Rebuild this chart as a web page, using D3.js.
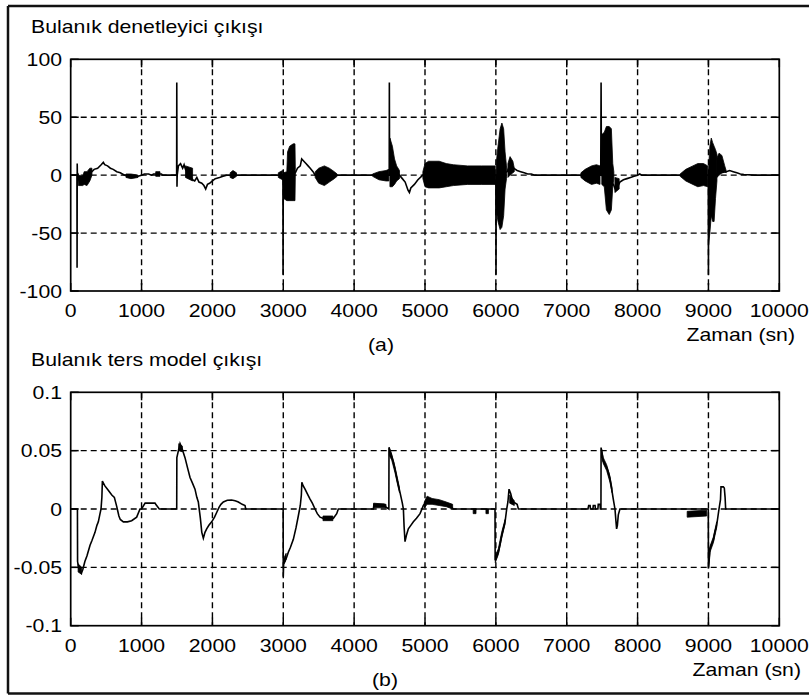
<!DOCTYPE html>
<html>
<head>
<meta charset="utf-8">
<script src="https://cdn.jsdelivr.net/npm/d3@7"></script>
<style>
  body { margin: 0; background: #fff; }
  text { font-family: "Liberation Sans", Arial, sans-serif; font-size: 18px; fill: #000; }
</style>
</head>
<body>
<svg id="chart" width="809" height="695"></svg>
<script>
// time axis (seconds)
const xTicks = [0, 1000, 2000, 3000, 4000, 5000, 6000, 7000, 8000, 9000, 10000];
const xTickLabels = ['0', '1000', '2000', '3000', '4000', '5000', '6000', '7000', '8000', '9000', '10000'];

// (a) fuzzy controller output
const ctrlTicks = [-100, -50, 0, 50, 100];
const ctrlTickLabels = ['-100', '-50', '0', '50', '100'];
const ctrlLine = [
  [0, 0], [88, 0], [90, -80], [92, 10], [95, -3], [300, 3], [330, 5], [380, 6], [430, 9], [460, 11], [480, 9],
  [520, 8], [560, 6], [600, 5], [650, 3], [700, 2], [760, 0], [850, -1], [950, -1], [1000, 0], [1040, 1],
  [1100, 1], [1140, 0], [1170, 1], [1280, 1], [1300, 0], [1495, 0], [1497, 80], [1500, -10], [1503, 0],
  [1520, 8], [1550, 10], [1580, 6], [1600, 9], [1620, 5], [1720, -4], [1750, -5], [1780, -2], [1810, -6],
  [1850, -7], [1880, -9], [1905, -12], [1930, -8], [1960, -7], [2000, -5], [2040, -3], [2100, -2], [2150, -1],
  [2200, 0], [2995, 0], [2997, -86], [3000, 0], [3170, 2], [3200, 6], [3240, 8], [3260, 14], [3290, 12],
  [3320, 10], [3350, 8], [3380, 6], [3420, 3], [3450, 0], [4495, 0], [4497, 80], [4500, 0], [4640, 0],
  [4680, -3], [4720, -6], [4760, -13], [4780, -15], [4800, -11], [4850, -8], [4900, -4], [4950, -1], [4970, 0],
  [6000, 0], [6002, -86], [6005, 0], [6160, 3], [6200, 10], [6250, 6], [6300, 4], [6350, 3], [6400, 2],
  [6450, 1], [6500, 1], [6550, 0], [7480, 0], [7485, 80], [7490, 0], [7660, -8], [7690, -13], [7720, -10],
  [7750, -6], [7800, -4], [7850, -3], [7900, -2], [7950, -1], [8000, 0], [8030, 1], [8060, 0], [8998, 0],
  [9000, -86], [9003, 0], [9250, 3], [9300, 4], [9350, 3], [9400, 2], [9450, 1], [9500, 0.5], [9650, 0], [10000, 0]
];
// dense oscillation envelopes: [t, low, high]
const ctrlBands = [
  [[100, -2, 2], [110, -9, 0], [170, -9, -1], [190, -8, 3], [230, -9, 3], [270, -5, 6], [300, 0, 6]],
  [[780, -2, 1], [850, -3, 1], [950, -2, 0]],
  [[1200, -1, 3], [1260, -1, 3]],
  [[1620, -2, 8], [1720, -5, 6]],
  [[2250, -2, 2], [2290, -3, 4], [2340, -1, 2]],
  [[2930, -2, 2], [2990, -4, 4]],
  [[3002, -20, 2], [3050, -22, 3], [3060, -22, 20], [3090, -22, 25], [3140, -22, 27], [3165, -22, 27], [3170, 0, 5]],
  [[3450, -2, 3], [3500, -7, 6], [3580, -9, 8], [3650, -6, 6], [3720, -3, 3], [3760, -1, 1]],
  [[4260, -1, 1], [4350, -4, 3], [4450, -5, 4], [4490, -5, 5]],
  [[4505, -10, 32], [4540, -10, 25], [4570, -8, 14], [4600, -5, 8], [4640, -3, 4]],
  [[4970, -3, 3], [5000, -10, 10], [5050, -11, 12], [5200, -11, 12], [5300, -10, 10], [5400, -9, 9], [5600, -8, 8], [5800, -8, 8], [5990, -8, 8]],
  [[6005, -30, 10], [6030, -40, 25], [6060, -47, 40], [6085, -45, 45], [6110, -35, 40], [6130, -12, 20], [6150, -3, 8]],
  [[6170, -2, 10], [6200, 0, 16], [6240, 2, 12], [6260, 3, 6]],
  [[7200, -2, 2], [7260, -5, 5], [7350, -8, 8], [7420, -7, 9], [7470, -8, 8]],
  [[7495, -8, 35], [7530, -10, 37], [7560, -30, 42], [7600, -34, 42], [7630, -30, 40], [7650, -10, 10], [7665, -3, 3]],
  [[7680, -15, -2], [7740, -12, -3]],
  [[8600, -1, 1], [8680, -5, 5], [8780, -8, 8], [8850, -10, 10], [8930, -9, 10], [8990, -10, 8]],
  [[9002, -60, 5], [9020, -50, 25], [9040, -35, 32], [9060, -40, 28], [9080, -40, 25], [9100, -20, 22], [9120, -5, 18]],
  [[9120, -2, 15], [9150, 0, 19], [9190, 2, 17], [9230, 3, 8], [9250, 2, 4]]
];

// (b) fuzzy inverse model output
const invTicks = [-0.1, -0.05, 0, 0.05, 0.1];
const invTickLabels = ['-0.1', '-0.05', '0', '0.05', '0.1'];
const invLine = [
  [0, 0], [95, 0], [97, -0.045], [110, -0.05], [130, -0.053], [150, -0.055], [170, -0.052], [200, -0.045],
  [230, -0.04], [273, -0.031], [300, -0.027], [343, -0.02], [370, -0.014], [390, -0.011], [410, -0.005],
  [428, 0], [440, 0.01], [447, 0.024], [480, 0.02], [530, 0.016], [580, 0.012], [616, 0.01], [650, 0.002],
  [680, -0.006], [700, -0.009], [743, -0.011], [800, -0.011], [860, -0.01], [931, -0.007], [978, 0], [1000, 0],
  [1050, 0.005], [1190, 0.005], [1200, 0.004], [1250, 0], [1496, 0], [1498, 0.044], [1520, 0.05], [1543, 0.056],
  [1570, 0.052], [1613, 0.044], [1650, 0.035], [1684, 0.027], [1720, 0.022], [1754, 0.017], [1780, 0.01],
  [1801, 0.006], [1830, -0.008], [1850, -0.02], [1872, -0.025], [1895, -0.02], [1919, -0.017], [1950, -0.014],
  [1990, -0.011], [2030, -0.007], [2060, -0.003], [2093, 0.0014], [2120, 0.004], [2154, 0.006], [2210, 0.0075],
  [2270, 0.0077], [2320, 0.007], [2366, 0.006], [2420, 0.004], [2460, 0.003], [2470, 0], [2998, 0], [3000, -0.058],
  [3005, -0.047], [3024, -0.045], [3050, -0.041], [3071, -0.037], [3100, -0.033], [3142, -0.026], [3180, -0.016],
  [3212, -0.006], [3240, 0.003], [3255, 0.012], [3262, 0.023], [3280, 0.02], [3307, 0.017], [3340, 0.013],
  [3378, 0.0085], [3410, 0.005], [3448, 0], [3480, -0.004], [3519, -0.007], [3560, -0.008], [3600, -0.009],
  [3650, -0.009], [3707, -0.008], [3754, -0.004], [3777, 0], [4271, 0], [4280, 0.004], [4420, 0.004],
  [4440, 0.002], [4490, 0], [4492, 0.0526], [4510, 0.049], [4530, 0.045], [4555, 0.04], [4577, 0.034],
  [4610, 0.024], [4648, 0.014], [4680, 0.005], [4695, 0], [4705, -0.015], [4718, -0.028], [4740, -0.022],
  [4765, -0.017], [4800, -0.014], [4836, -0.011], [4880, -0.008], [4930, -0.004], [4977, 0.003], [5024, 0.007],
  [5080, 0.008], [5150, 0.007], [5250, 0.005], [5350, 0.003], [5400, 0], [5988, 0], [5990, -0.044],
  [6010, -0.041], [6035, -0.037], [6060, -0.03], [6082, -0.023], [6105, -0.017], [6130, -0.011], [6153, 0],
  [6170, 0.006], [6186, 0.017], [6210, 0.013], [6230, 0.008], [6247, 0.006], [6300, 0.004], [6318, 0],
  [7300, 0], [7310, 0.003], [7330, 0.003], [7335, 0], [7370, 0], [7375, 0.003], [7400, 0.003], [7405, 0],
  [7440, 0], [7445, 0.004], [7470, 0.004], [7475, 0], [7483, 0], [7485, 0.0526], [7500, 0.047], [7516, 0.041],
  [7540, 0.038], [7563, 0.036], [7590, 0.031], [7610, 0.026], [7635, 0.017], [7657, 0.0085], [7681, 0],
  [7694, -0.01], [7704, -0.017], [7715, -0.014], [7728, -0.005], [7751, 0], [8998, 0], [9000, -0.051],
  [9010, -0.044], [9022, -0.034], [9045, -0.03], [9069, -0.027], [9090, -0.02], [9116, -0.014], [9135, -0.006],
  [9149, 0], [9170, 0.008], [9177, 0.019], [9210, 0.019], [9224, 0.018], [9235, 0.01], [9243, 0], [10000, 0]
];
const invBands = [
  [[105, -0.054, -0.047], [155, -0.056, -0.05]],
  [[1525, 0.05, 0.056], [1575, 0.049, 0.054]],
  [[3002, -0.048, -0.043], [3040, -0.043, -0.038]],
  [[3560, -0.01, -0.006], [3700, -0.01, -0.006]],
  [[4275, 0.001, 0.005], [4450, 0.001, 0.004]],
  [[4495, 0.046, 0.053], [4530, 0.042, 0.047], [4577, 0.031, 0.036], [4620, 0.019, 0.024], [4640, 0.014, 0.018]],
  [[4990, 0.001, 0.006], [5030, 0.004, 0.011], [5100, 0.004, 0.009], [5200, 0.003, 0.008], [5300, 0.002, 0.006], [5390, 0, 0.004]],
  [[5680, -0.004, 0], [5720, -0.004, 0]],
  [[5860, -0.004, 0], [5895, -0.004, 0]],
  [[5992, -0.046, -0.04], [6035, -0.039, -0.034], [6082, -0.025, -0.02], [6130, -0.013, -0.009]],
  [[6195, 0.005, 0.012], [6260, 0.003, 0.007]],
  [[7490, 0.045, 0.052], [7516, 0.039, 0.044], [7563, 0.033, 0.038], [7610, 0.023, 0.028], [7640, 0.014, 0.018]],
  [[8700, -0.007, -0.002], [8975, -0.006, -0.001]],
  [[9002, -0.05, -0.042], [9022, -0.037, -0.032], [9069, -0.029, -0.024], [9116, -0.016, -0.011]]
];

const SX = 1.18;   // the picture's text is a bit stretched sideways
const svg = d3.select('#chart');

function label(g, str, x, y, anchor) {
  g.append('text')
    .attr('transform', `translate(${x},${y}) scale(${SX},1)`)
    .attr('text-anchor', anchor)
    .text(str);
}

// outer frame (no right edge in the picture)
const frame = svg.append('g').attr('stroke', '#111').attr('stroke-width', 2.5);
frame.append('line').attr('x1', 8).attr('y1', 6).attr('x2', 809).attr('y2', 6);
frame.append('line').attr('x1', 8).attr('y1', 6).attr('x2', 8).attr('y2', 693.5);
frame.append('line').attr('x1', 8).attr('y1', 693.5).attr('x2', 809).attr('y2', 693.5);

function drawPanel(p) {
  const g = svg.append('g');
  const x = d3.scaleLinear().domain([0, 10000]).range([70.7, 779.3]);
  const y = d3.scaleLinear().domain([p.ticks[0], p.ticks[p.ticks.length - 1]]).range([p.bottom, p.top]);

  // dashed grid
  g.append('g').selectAll('line').data(xTicks.slice(1, -1)).join('line')
    .attr('x1', d => x(d)).attr('x2', d => x(d))
    .attr('y1', p.top).attr('y2', p.bottom)
    .attr('stroke', '#000').attr('stroke-width', 1.4).attr('stroke-dasharray', '6,4');
  g.append('g').selectAll('line').data(p.ticks.slice(1, -1)).join('line')
    .attr('x1', x(0)).attr('x2', x(10000))
    .attr('y1', d => y(d)).attr('y2', d => y(d))
    .attr('stroke', '#000').attr('stroke-width', 1.4).attr('stroke-dasharray', '6,4');

  // oscillation envelopes
  const area = d3.area().x(d => x(d[0])).y0(d => y(d[1])).y1(d => y(d[2]));
  g.append('g').selectAll('path').data(p.bands).join('path')
    .attr('d', area)
    .attr('fill', '#000').attr('stroke', '#000').attr('stroke-width', 0.8);

  // signal
  const line = d3.line().x(d => x(d[0])).y(d => y(d[1]));
  g.append('path').datum(p.series)
    .attr('d', line)
    .attr('fill', 'none').attr('stroke', '#000').attr('stroke-width', 1.6);

  // inward ticks on all sides
  const tk = g.append('g').attr('stroke', '#000').attr('stroke-width', 1.5);
  xTicks.forEach(d => {
    tk.append('line').attr('x1', x(d)).attr('x2', x(d)).attr('y1', p.bottom).attr('y2', p.bottom - 8);
    tk.append('line').attr('x1', x(d)).attr('x2', x(d)).attr('y1', p.top).attr('y2', p.top + 8);
  });
  p.ticks.forEach(d => {
    tk.append('line').attr('x1', x(0)).attr('x2', x(0) + 8).attr('y1', y(d)).attr('y2', y(d));
    tk.append('line').attr('x1', x(10000)).attr('x2', x(10000) - 8).attr('y1', y(d)).attr('y2', y(d));
  });

  // axes box
  g.append('rect')
    .attr('x', x(0)).attr('y', p.top)
    .attr('width', x(10000) - x(0)).attr('height', p.bottom - p.top)
    .attr('fill', 'none').attr('stroke', '#000').attr('stroke-width', 1.7);

  // tick labels
  xTicks.forEach((d, i) => label(g, xTickLabels[i], x(d), p.bottom + 26, 'middle'));
  p.ticks.forEach((d, i) => label(g, p.tickLabels[i], 62, y(d) + 6.5, 'end'));

  label(g, p.title, 31, p.top - 26, 'start');
  label(g, 'Zaman (sn)', p.xlabRight, p.bottom + 50, 'end');
  label(g, p.tag, p.tagX, p.bottom + 60, 'middle');
}

drawPanel({
  top: 59.3, bottom: 291, ticks: ctrlTicks, tickLabels: ctrlTickLabels,
  series: ctrlLine, bands: ctrlBands,
  title: 'Bulanık denetleyici çıkışı', tag: '(a)', tagX: 381, xlabRight: 795
});
drawPanel({
  top: 392.3, bottom: 625.7, ticks: invTicks, tickLabels: invTickLabels,
  series: invLine, bands: invBands,
  title: 'Bulanık ters model çıkışı', tag: '(b)', tagX: 385, xlabRight: 801
});
</script>
</body>
</html>
